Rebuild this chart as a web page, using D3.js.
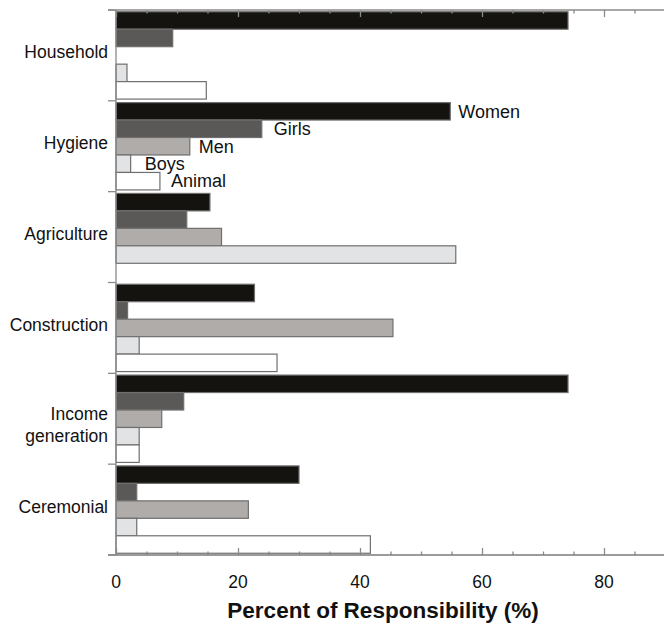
<!DOCTYPE html>
<html>
<head>
<meta charset="utf-8">
<script src="https://cdn.jsdelivr.net/npm/d3@7"></script>
<style>
  html, body { margin: 0; padding: 0; background: #fff; }
  svg { display: block; font-family: "Liberation Sans", Arial, Helvetica, sans-serif; }
</style>
</head>
<body>
<svg id="chart" width="664" height="628"></svg>
<script>
// Activity categories (top to bottom); "\n" splits a label over two lines
const categories = ["Household", "Hygiene", "Agriculture", "Construction", "Income\ngeneration", "Ceremonial"];
// Who carries each responsibility
const series = ["Women", "Girls", "Men", "Boys", "Animal"];
// Percent of responsibility per category, one array per series
const women  = [74.1, 54.8, 15.4, 22.7, 74.1, 30.0];
const girls  = [9.3, 23.9, 11.6, 1.9, 11.1, 3.4];
const men    = [0, 12.1, 17.3, 45.4, 7.5, 21.7];
const boys   = [1.8, 2.4, 55.7, 3.8, 3.8, 3.4];
const animal = [14.8, 7.2, 0, 26.4, 3.8, 41.7];
// Axis ticks
const majorTicks = [0, 20, 40, 60, 80];
const minorTicks = d3.range(0, 91, 5);

const seriesValues = [women, girls, men, boys, animal];
const fills = ["#15130f", "#5b5957", "#afacaa", "#e2e3e5", "#ffffff"];
const labelGap = [8, 12, 9, 14, 11];
const labelRow = 1; // the Hygiene group carries the series names

(function draw() {
  const svg = d3.select("#chart");
  const mLeft = 116, mRight = 665, mTop = 10, mBottom = 555;

  const x = d3.scaleLinear().domain([0, 90]).range([mLeft, mRight]);
  const y = d3.scaleBand().domain(categories).range([mTop, mBottom]).paddingInner(0).paddingOuter(0);
  const ySub = d3.scaleBand().domain(series).range([0, y.bandwidth()]).paddingInner(0).paddingOuter(0.1);

  const rows = [];
  categories.forEach((c, ci) => {
    series.forEach((s, si) => {
      rows.push({ cat: c, ci, s, si, v: seriesValues[si][ci] });
    });
  });

  // Bars
  svg.append("g").selectAll("rect")
    .data(rows.filter(d => d.v > 0))
    .join("rect")
    .attr("x", x(0))
    .attr("y", d => y(d.cat) + ySub(d.s))
    .attr("width", d => x(d.v) - x(0))
    .attr("height", ySub.bandwidth())
    .attr("fill", d => fills[d.si])
    .attr("stroke", "#6f6f6f")
    .attr("stroke-width", 1.2);

  // Series names beside the bars of one group
  svg.append("g").selectAll("text")
    .data(rows.filter(d => d.ci === labelRow))
    .join("text")
    .attr("x", d => x(d.v) + labelGap[d.si])
    .attr("y", d => y(d.cat) + ySub(d.s) + ySub.bandwidth() / 2)
    .attr("dy", "0.35em")
    .attr("font-size", 18)
    .attr("fill", "#111")
    .text(d => d.s);

  const axisColor = "#8a8a8a";

  // Bottom axis: inward ticks, longer at labelled values
  const bottomAxis = d3.axisBottom(x).tickValues(minorTicks).tickSize(0).tickFormat("");
  const gb = svg.append("g").attr("transform", `translate(0,${mBottom})`).call(bottomAxis);
  gb.select(".domain").remove();
  gb.selectAll(".tick line")
    .attr("y2", d => majorTicks.includes(d) ? -7 : -3.5)
    .attr("stroke", axisColor).attr("stroke-width", 1.3);
  svg.append("line").attr("x1", mLeft - 8).attr("x2", mRight).attr("y1", mBottom).attr("y2", mBottom)
    .attr("stroke", "#7a7a7a").attr("stroke-width", 1.4);

  svg.append("g").selectAll("text")
    .data(majorTicks)
    .join("text")
    .attr("x", d => x(d))
    .attr("y", 588)
    .attr("text-anchor", "middle")
    .attr("font-size", 17.5)
    .attr("fill", "#111")
    .text(d => d);

  // Top axis: ticks pointing down into the plot
  const topAxis = d3.axisTop(x).tickValues(minorTicks).tickSize(0).tickFormat("");
  const gt = svg.append("g").attr("transform", `translate(0,${mTop})`).call(topAxis);
  gt.select(".domain").remove();
  gt.selectAll(".tick line")
    .attr("y2", d => majorTicks.includes(d) ? 7 : 3.5)
    .attr("stroke", axisColor).attr("stroke-width", 1.3);
  svg.append("line").attr("x1", mLeft - 8).attr("x2", mRight).attr("y1", mTop).attr("y2", mTop)
    .attr("stroke", axisColor).attr("stroke-width", 1.3);

  // Left axis with outward ticks on group boundaries
  svg.append("line").attr("x1", mLeft).attr("x2", mLeft).attr("y1", mTop).attr("y2", mBottom)
    .attr("stroke", axisColor).attr("stroke-width", 1.3);
  const bounds = categories.map(c => y(c)).concat([mBottom]);
  svg.append("g").selectAll("line")
    .data(bounds)
    .join("line")
    .attr("x1", mLeft - 8).attr("x2", mLeft)
    .attr("y1", d => d).attr("y2", d => d)
    .attr("stroke", axisColor).attr("stroke-width", 1.3);

  // Category labels
  const catText = svg.append("g").selectAll("text")
    .data(categories)
    .join("text")
    .attr("text-anchor", "end")
    .attr("font-size", 17.5)
    .attr("fill", "#111")
    .attr("y", d => y(d) + y.bandwidth() / 2 + (d.includes("\n") ? 1.5 : 3));
  catText.selectAll("tspan")
    .data(d => d.split("\n"))
    .join("tspan")
    .attr("x", 108)
    .attr("dy", (d, i) => i === 0 ? 0 : 21.5)
    .text(d => d);

  // Axis title
  svg.append("text")
    .attr("x", (226 + 540) / 2)
    .attr("y", 618)
    .attr("text-anchor", "middle")
    .attr("font-size", 22.5)
    .attr("font-weight", "bold")
    .attr("fill", "#111")
    .text("Percent of Responsibility (%)");
})();
</script>
</body>
</html>
